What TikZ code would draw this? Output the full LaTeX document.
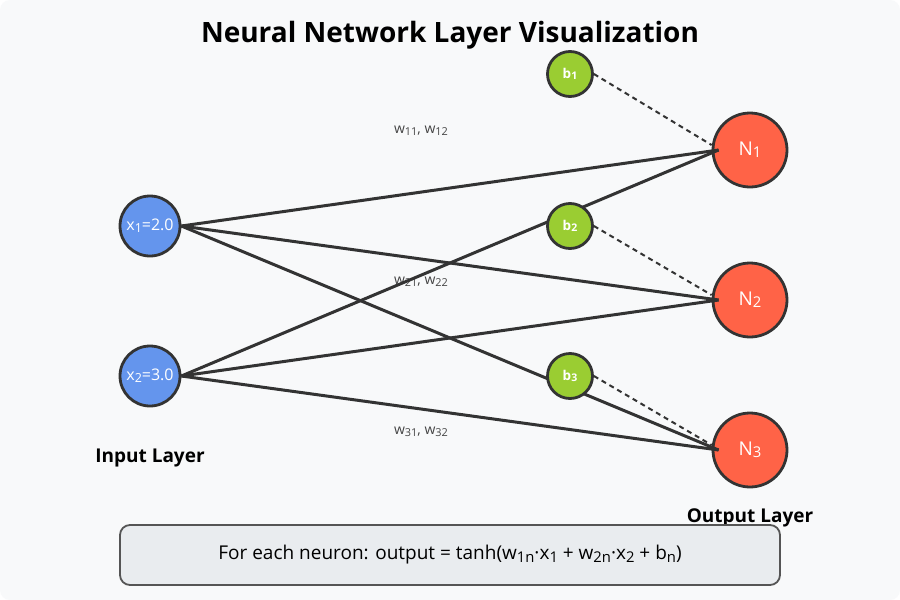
\documentclass[tikz,border=0pt]{standalone}
\usepackage{fontspec}
\usepackage{graphicx}
\setmainfont{Open Sans}
\definecolor{bgc}{HTML}{F8F9FA}
\definecolor{linec}{HTML}{333333}
\definecolor{inblue}{HTML}{6495ED}
\definecolor{bgreen}{HTML}{9ACD32}
\definecolor{outred}{HTML}{FF6347}
\definecolor{boxfill}{HTML}{E9ECEF}
\definecolor{boxline}{HTML}{555555}
\definecolor{wlab}{HTML}{444444}
\newcommand{\sbs}[1]{\raisebox{-0.22ex}{\scalebox{0.78}{#1}}}
\tikzset{
  inpnode/.style={circle, draw=linec, line width=2.8pt, fill=inblue, minimum size=60pt, inner sep=0pt, text=white, font=\fontsize{16}{18}\selectfont},
  biasnode/.style={circle, draw=linec, line width=2.8pt, fill=bgreen, minimum size=45pt, inner sep=0pt, text=white, font=\fontsize{13.5}{15}\selectfont\bfseries},
  outnode/.style={circle, draw=linec, line width=2.8pt, fill=outred, minimum size=74pt, inner sep=0pt, text=white, font=\fontsize{19}{22}\selectfont},
  wedge/.style={draw=linec, line width=3pt},
  bedge/.style={draw=linec, line width=2pt, dash pattern=on 5pt off 4pt},
  wlabel/.style={text=wlab, font=\fontsize{14}{16}\selectfont, inner sep=0pt},
  layerlabel/.style={text=black, font=\fontsize{19}{22}\selectfont\bfseries, inner sep=0pt},
  titlestyle/.style={text=black, font=\fontsize{28}{32}\selectfont\bfseries, inner sep=0pt},
  formbox/.style={draw=boxline, line width=1.8pt, fill=boxfill, rounded corners=10pt, minimum width=660pt, minimum height=60pt, inner sep=0pt, font=\fontsize{19}{22}\selectfont, text=black}
}
\begin{document}
\begin{tikzpicture}[x=1pt, y=-1pt]
\useasboundingbox (0,0) rectangle (900,600);
\fill[white] (0,0) rectangle (900,600);
\fill[bgc, rounded corners=10pt] (0,0) rectangle (900,600);

\node[titlestyle] (title) at (450,35) {Neural Network Layer Visualization};

\node[outnode] (N1) at (750,150) {N\sbs{1}};
\node[outnode] (N2) at (750,300) {N\sbs{2}};
\node[outnode] (N3) at (750,450) {N\sbs{3}};

\node[inpnode] (x1) at (150,226) {x\sbs{1}=2.0};
\node[inpnode] (x2) at (150,376) {x\sbs{2}=3.0};

\node[wlabel] (w1) at (421,131) {w\sbs{11}, w\sbs{12}};
\node[wlabel] (w2) at (421,282) {w\sbs{21}, w\sbs{22}};
\node[wlabel] (w3) at (421,432) {w\sbs{31}, w\sbs{32}};

\foreach \i in {x1,x2}{
  \foreach \j in {N1,N2,N3}{
    \draw[wedge] (\i.east) -- ([xshift=7pt]\j.west);
  }
}

\node[biasnode] (b1) at (570,74) {b\sbs{1}};
\node[biasnode] (b2) at (570,226) {b\sbs{2}};
\node[biasnode] (b3) at (570,376) {b\sbs{3}};

\draw[bedge] (b1.east) -- ([yshift=5pt]N1.west);
\draw[bedge] (b2.east) -- ([yshift=5pt]N2.west);
\draw[bedge] (b3.east) -- ([yshift=5pt]N3.west);

\node[layerlabel] (inl) at (150,458) {Input Layer};
\node[layerlabel] (outl) at (750,518) {Output Layer};

\node[formbox] (form) at (450,555) {For each neuron: output = tanh(w\sbs{1n}·x\sbs{1} + w\sbs{2n}·x\sbs{2} + b\sbs{n})};
\end{tikzpicture}
\end{document}
